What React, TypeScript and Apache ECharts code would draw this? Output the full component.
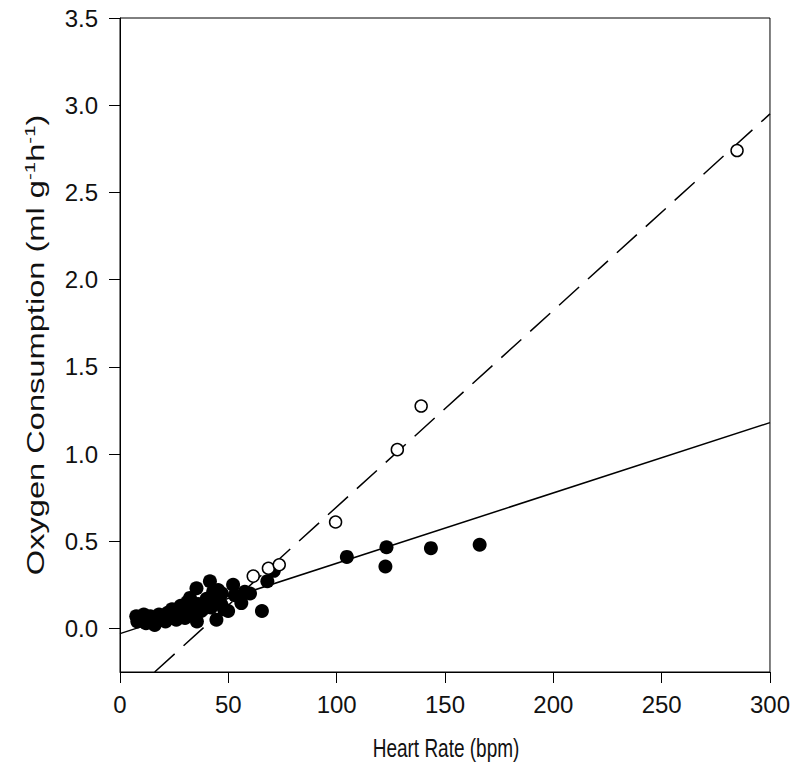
import React, { useEffect, useRef } from "react";
import * as echarts from "echarts";

// Filled circles: [heart rate (bpm), oxygen consumption]
const filledPoints: number[][] = [
  [7.5, 0.07], [8, 0.04], [10, 0.05], [11, 0.08], [12, 0.03], [13, 0.06], [14, 0.07],
  [15, 0.04], [16, 0.02], [17, 0.06], [18, 0.08], [19, 0.05], [20, 0.07], [21, 0.04],
  [22, 0.09], [23, 0.06], [24, 0.11], [25, 0.07], [26, 0.05], [27, 0.1], [28, 0.13],
  [29, 0.08], [30, 0.06], [31, 0.15], [32, 0.1], [32.3, 0.175], [33, 0.12], [34, 0.08],
  [35.3, 0.23], [35.5, 0.04], [36, 0.14], [37.5, 0.1], [39.2, 0.117], [40, 0.17],
  [41.5, 0.27], [42, 0.12], [43, 0.21], [44.5, 0.05], [45.3, 0.22], [45, 0.15],
  [46.8, 0.136], [47, 0.2], [48, 0.11], [49.9, 0.1], [52.2, 0.25], [53, 0.19],
  [56, 0.145], [57.6, 0.21], [60, 0.2], [65.5, 0.1], [68, 0.27], [71, 0.33],
  [104.7, 0.41], [123, 0.465], [122.5, 0.355], [143.5, 0.46], [166, 0.48],
];

// Open circles
const openPoints: number[][] = [
  [61.5, 0.3], [68.5, 0.345], [73.5, 0.365], [99.5, 0.61], [128, 1.025], [139, 1.275], [284.8, 2.74],
];

// Regression line end points
const solidFit: number[][] = [[0, -0.03], [300, 1.18]];
const dashedFit: number[][] = [[16, -0.25], [300, 2.95]];

const xTicks = [0, 50, 100, 150, 200, 250, 300];
const yTicks = [0, 0.5, 1.0, 1.5, 2.0, 2.5, 3.0, 3.5];

const xTitle = "Heart Rate (bpm)";
const yTitle = "Oxygen Consumption (ml g{sup|-1}h{sup|-1})";

export default function App() {
  const ref = useRef<HTMLDivElement>(null);
  useEffect(() => {
    document.body.style.margin = "0";
    const chart = echarts.init(ref.current!, null, { renderer: "svg" });
    const font = "'Liberation Sans', Arial, sans-serif";
    chart.setOption({
      animation: false,
      backgroundColor: "#fff",
      textStyle: { fontFamily: font },
      grid: {
        left: 120,
        right: 22,
        top: 18,
        bottom: 100,
        show: true,
        borderColor: "#000",
        borderWidth: 1,
      },
      graphic: [
        {
          type: "text",
          x: 36,
          y: 345,
          rotation: Math.PI / 2,
          scaleX: 1.36,
          style: {
            text: yTitle,
            fontSize: 24,
            fontFamily: font,
            fill: "#111",
            align: "center",
            verticalAlign: "middle",
            lineHeight: 28,
            rich: {
              sup: { fontSize: 15, verticalAlign: "top", lineHeight: 15, fontFamily: font, fill: "#111" },
            },
          },
        },
        {
          type: "text",
          x: 446,
          y: 748,
          scaleY: 1.36,
          style: {
            text: xTitle,
            fontSize: 19,
            fontFamily: font,
            fill: "#111",
            align: "center",
            verticalAlign: "middle",
          },
        },
      ],
      xAxis: {
        type: "value",
        min: 0,
        max: 300,
        interval: 50,
        axisLine: { show: true, onZero: false, lineStyle: { color: "#000", width: 1 } },
        axisTick: { show: true, length: 11, lineStyle: { color: "#000" }, customValues: xTicks },
        axisLabel: { fontSize: 24, color: "#111", margin: 20, fontFamily: font, customValues: xTicks },
        splitLine: { show: false },
      },
      yAxis: {
        type: "value",
        min: -0.25,
        max: 3.5,
        axisLine: { show: true, onZero: false, lineStyle: { color: "#000", width: 1 } },
        axisTick: { show: true, length: 11, lineStyle: { color: "#000" }, customValues: yTicks },
        axisLabel: {
          fontSize: 24,
          color: "#111",
          margin: 22,
          fontFamily: font,
          customValues: yTicks,
          formatter: (v: number) => v.toFixed(1),
        },
        splitLine: { show: false },
      },
      series: [
        {
          type: "line",
          data: solidFit,
          symbol: "none",
          lineStyle: { color: "#000", width: 1.5 },
          z: 2,
        },
        {
          type: "line",
          data: dashedFit,
          symbol: "none",
          lineStyle: { color: "#000", width: 1.5, type: [27, 12] },
          z: 2,
        },
        {
          type: "scatter",
          data: filledPoints,
          symbol: "circle",
          symbolSize: 14,
          itemStyle: { color: "#000", opacity: 1 },
          z: 3,
        },
        {
          type: "scatter",
          data: openPoints,
          symbol: "circle",
          symbolSize: 12,
          itemStyle: { color: "#fff", borderColor: "#000", borderWidth: 1.5, opacity: 1 },
          z: 4,
        },
      ],
    });
    return () => chart.dispose();
  }, []);
  return <div ref={ref} style={{ width: 793, height: 772 }} />;
}
